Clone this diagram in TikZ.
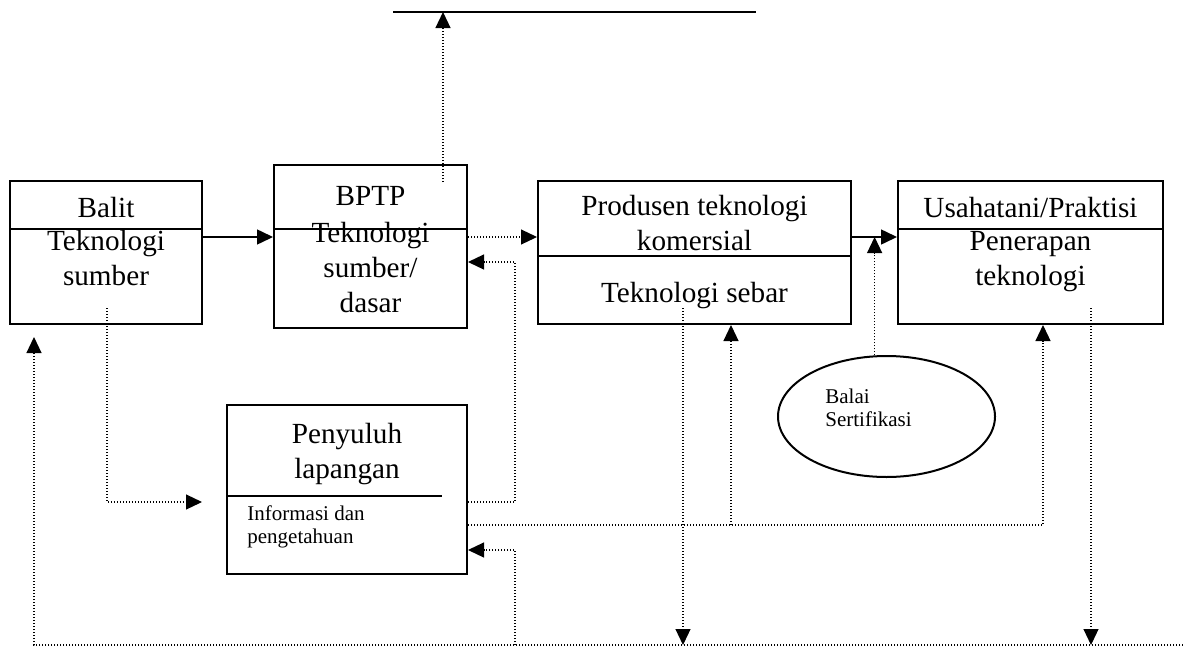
\documentclass[tikz,border=0pt]{standalone}
\usepackage{fontspec}
\setmainfont{Liberation Serif}
\usetikzlibrary{arrows.meta, positioning, shapes.geometric, calc}
\tikzset{
    box/.style={draw, line width=1pt, inner sep=0pt},
    big/.style={font=\fontsize{14.6}{17.5}\selectfont, align=center, inner sep=0pt},
    small/.style={font=\fontsize{10.5}{11.5}\selectfont, align=left, inner sep=0pt},
    dots/.style={line width=0.6pt, dash pattern=on 0.6pt off 0.9pt},
    tip/.style={-{Triangle[length=8pt, width=7.5pt]}},
}

\begin{document}
\begin{tikzpicture}[x=0.5pt, y=-0.5pt]
    \useasboundingbox (0,0) rectangle (1183,648);

    \coordinate (y1) at (0,237);
    \coordinate (y2) at (0,262);
    \coordinate (y3) at (0,502);
    \coordinate (y4) at (0,525);
    \coordinate (y5) at (0,550);
    \coordinate (yB) at (0,645);
    \coordinate (x1) at (515,0);
    \coordinate (xP) at (731,0);
    \coordinate (xU) at (1043,0);

    \node[box, minimum width=96pt, minimum height=71.5pt] (balit) at (106,252.5) {};
    \node[box, minimum width=96.5pt, minimum height=81.5pt] (bptp) at (370.5,246.5) {};
    \node[box, minimum width=156.5pt, minimum height=71.5pt] (produsen) at (694.5,252.5) {};
    \node[box, minimum width=132.5pt, minimum height=71.5pt] (usaha) at (1030.5,252.5) {};
    \node[box, minimum width=120pt, minimum height=84.5pt] (penyuluh) at (347,489.5) {};
    \node[box, ellipse, minimum width=108.5pt, minimum height=60.5pt] (balai) at (886.5,416.5) {};

    \draw[line width=1pt] (balit.west |- 0,229) -- (balit.east |- 0,229);
    \draw[line width=1pt] (bptp.west |- 0,229) -- (bptp.east |- 0,229);
    \draw[line width=1pt] (produsen.west |- 0,256) -- (produsen.east |- 0,256);
    \draw[line width=1pt] (usaha.west |- 0,229) -- (usaha.east |- 0,229);
    \draw[line width=1pt] (penyuluh.west |- 0,496) -- +(216,0);

    \node[big, anchor=base] (balitA) at (106,217) {Balit};
    \node[big, anchor=base] (balitB) at (106,285) {Teknologi\\sumber};
    \node[big, anchor=base] (bptpA) at (370.5,205) {BPTP};
    \node[big, anchor=base] (bptpB) at (370.5,312) {Teknologi\\sumber/\\dasar};
    \node[big, anchor=base] (prodA) at (694.5,250) {Produsen teknologi\\komersial};
    \node[big, anchor=base] (prodB) at (694.5,302) {Teknologi sebar};
    \node[big, anchor=base] (usahaA) at (1030.5,217) {Usahatani/Praktisi};
    \node[big, anchor=base] (usahaB) at (1030.5,285) {Penerapan\\teknologi};
    \node[big, anchor=base] (penyA) at (347,478) {Penyuluh\\lapangan};
    \node[small, anchor=base west] (penyB) at (247,543) {Informasi dan\\pengetahuan};
    \node[small, anchor=base west] (balaiT) at (825,426) {Balai\\Sertifikasi};

    \coordinate (topL) at (393,12);
    \coordinate (topR) at (756,12);
    \coordinate (bptpUp) at (443,182);
    \coordinate (balitDn) at (107,308);
    \coordinate (penyIn) at (202,502);
    \coordinate (prodDn) at (683,308);
    \coordinate (usahaDn) at (1091,308);
    \coordinate (botR) at (1183,645);
    \coordinate (balitUp) at (34,337);

    \draw[line width=0.75pt] (topL) -- (topR);
    \draw[tip, dots] (bptpUp) -- (bptpUp |- topL);

    \draw[tip, line width=0.75pt] (balit.east |- y1) -- (bptp.west |- y1);
    \draw[tip, dots] (bptp.east |- y1) -- (produsen.west |- y1);
    \draw[tip, line width=0.75pt] (produsen.east |- y1) -- (usaha.west |- y1);
    \draw[tip, dots] (balai.101) -- (balai.101 |- y1);

    \draw[tip, dots] (balitDn) |- (penyIn);
    \draw[tip, dots] (penyuluh.east |- y3) -| (x1 |- y2) -- (bptp.east |- y2);
    \draw[tip, dots] (penyuluh.east |- y4) -| (usaha.south -| xU);
    \draw[tip, dots] (xP |- y4) -- (produsen.south -| xP);

    \draw[tip, dots] (prodDn) -- (prodDn |- yB);
    \draw[tip, dots] (usahaDn) -- (usahaDn |- yB);
    \draw[tip, dots] (botR) -| (balitUp);
    \draw[tip, dots] (x1 |- yB) |- (penyuluh.east |- y5);
\end{tikzpicture}
\end{document}
